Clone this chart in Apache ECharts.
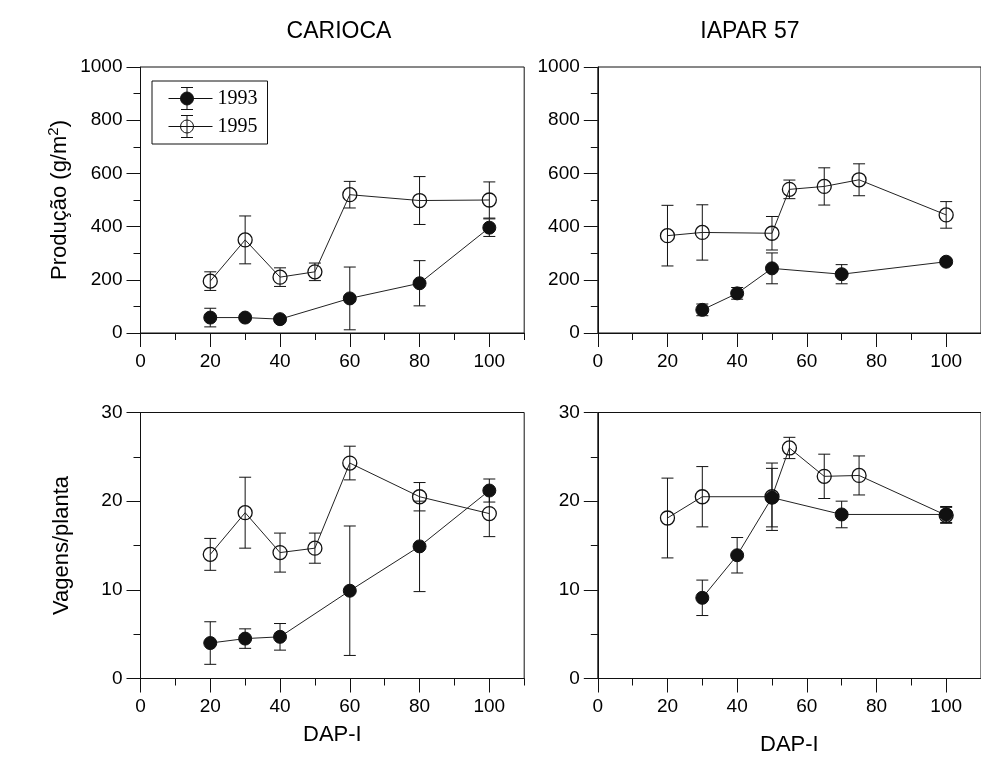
<!DOCTYPE html>
<html><head><meta charset="utf-8">
<script src="https://cdn.jsdelivr.net/npm/echarts@6/dist/echarts.min.js"></script>
<style>html,body{margin:0;padding:0;background:#fff}#c{width:981px;height:778px}</style>
</head><body><div id="c"></div>
<script>
// ---- data ----
const seriesNames = ['1993', '1995'];
const panelTitles = ['CARIOCA', 'IAPAR 57'];
const xTickLabels = [0, 20, 40, 60, 80, 100];
const xMinorTicks = [10, 30, 50, 70, 90, 110];

// CARIOCA - Produção (g/m2)
const carProdX93 = [20, 30, 40, 60, 80, 100];
const carProd93 = [58, 58, 52, 130, 187, 396];
const carProdErr93 = [35, 10, 8, 118, 85, 33];
const carProdX95 = [20, 30, 40, 50, 60, 80, 100];
const carProd95 = [195, 350, 210, 230, 520, 498, 500];
const carProdErr95 = [35, 90, 35, 33, 50, 90, 68];

// IAPAR 57 - Produção (g/m2)
const iapProdX93 = [30, 40, 50, 70, 100];
const iapProd93 = [87, 149, 243, 221, 268];
const iapProdErr93 = [22, 22, 58, 36, 10];
const iapProdX95 = [20, 30, 50, 55, 65, 75, 100];
const iapProd95 = [366, 378, 375, 540, 551, 576, 444];
const iapProdErr95 = [114, 104, 63, 35, 70, 60, 50];

// CARIOCA - Vagens/planta
const carVagX93 = [20, 30, 40, 60, 80, 100];
const carVag93 = [4.0, 4.5, 4.7, 9.9, 14.9, 21.2];
const carVagErr93 = [2.4, 1.1, 1.5, 7.3, 5.1, 1.3];
const carVagX95 = [20, 30, 40, 50, 60, 80, 100];
const carVag95 = [14.0, 18.7, 14.2, 14.7, 24.3, 20.5, 18.6];
const carVagErr95 = [1.8, 4.0, 2.2, 1.7, 1.9, 1.6, 2.6];

// IAPAR 57 - Vagens/planta
const iapVagX93 = [30, 40, 50, 70, 100];
const iapVag93 = [9.1, 13.9, 20.4, 18.5, 18.5];
const iapVagErr93 = [2.0, 2.0, 3.3, 1.5, 0.9];
const iapVagX95 = [20, 30, 50, 55, 65, 75, 100];
const iapVag95 = [18.1, 20.5, 20.5, 26.0, 22.8, 22.9, 18.4];
const iapVagErr95 = [4.5, 3.4, 3.8, 1.2, 2.5, 2.2, 0.9];

// ---- chart ----
const FONT = 'Liberation Sans, Arial, sans-serif';
const INK = '#111';

const panels = [
  {x93: carProdX93, y93: carProd93, e93: carProdErr93, x95: carProdX95, y95: carProd95, e95: carProdErr95},
  {x93: iapProdX93, y93: iapProd93, e93: iapProdErr93, x95: iapProdX95, y95: iapProd95, e95: iapProdErr95},
  {x93: carVagX93, y93: carVag93, e93: carVagErr93, x95: carVagX95, y95: carVag95, e95: carVagErr95},
  {x93: iapVagX93, y93: iapVag93, e93: iapVagErr93, x95: iapVagX95, y95: iapVag95, e95: iapVagErr95}
];

const grids = [
  {left: 140.5, top: 67, width: 383.7, height: 266},
  {left: 597.8, top: 67, width: 387.2, height: 266},
  {left: 140.5, top: 412.5, width: 383.7, height: 266},
  {left: 597.8, top: 412.5, width: 387.2, height: 266}
].map(g => Object.assign({show: true, borderColor: INK, borderWidth: 1, backgroundColor: 'transparent'}, g));

const xAxes = [];
const yAxes = [];
grids.forEach((g, i) => {
  const bottomRow = i >= 2;
  xAxes.push({
    type: 'value', gridIndex: i, position: 'bottom', min: 0, max: 110,
    axisLine: {show: true, onZero: false, lineStyle: {color: INK, width: 1}},
    axisTick: {show: true, length: 14, customValues: xTickLabels, lineStyle: {color: INK, width: 1}},
    axisLabel: {show: true, customValues: xTickLabels, margin: 19, color: '#000', fontSize: 19, fontFamily: FONT},
    splitLine: {show: false},
    name: bottomRow ? 'DAP-I' : '',
    nameLocation: 'middle',
    nameMoveOverlap: false,
    nameGap: i === 2 ? 45 : 55,
    nameTextStyle: {color: '#000', fontSize: 22, fontFamily: FONT}
  });
  xAxes.push({
    type: 'value', gridIndex: i, position: 'bottom', min: 0, max: 110,
    axisLine: {show: false},
    axisTick: {show: true, length: 7, customValues: xMinorTicks, lineStyle: {color: INK, width: 1}},
    axisLabel: {show: false},
    splitLine: {show: false}
  });
  const isProd = i < 2;
  yAxes.push({
    type: 'value', gridIndex: i, min: 0, max: isProd ? 1000 : 30, interval: isProd ? 200 : 10,
    axisLine: {show: true, onZero: false, lineStyle: {color: INK, width: 1}},
    axisTick: {show: true, length: 14, lineStyle: {color: INK, width: 1}},
    minorTick: {show: true, splitNumber: 2, length: 7, lineStyle: {color: INK, width: 1}},
    axisLabel: {margin: 18, color: '#000', fontSize: 19, fontFamily: FONT, formatter: v => String(v)},
    splitLine: {show: false},
    name: i === 0 ? 'Produção (g/m{sup|2})' : (i === 2 ? 'Vagens/planta' : ''),
    nameLocation: 'middle',
    nameRotate: 90,
    nameMoveOverlap: false,
    nameGap: 68,
    nameTextStyle: {color: '#000', fontSize: 22, fontFamily: FONT,
      rich: {sup: {fontSize: 15, fontFamily: FONT, color: '#000', padding: [0, 0, 11, 0]}}}
  });
});

function renderErr(params, api) {
  const x = api.value(0), lo = api.value(1), hi = api.value(2);
  const a = api.coord([x, hi]), b = api.coord([x, lo]);
  const w = 6;
  const st = {stroke: INK, lineWidth: 1};
  return {
    type: 'group',
    children: [
      {type: 'line', shape: {x1: a[0], y1: a[1], x2: b[0], y2: b[1]}, style: st},
      {type: 'line', shape: {x1: a[0] - w, y1: a[1], x2: a[0] + w, y2: a[1]}, style: st},
      {type: 'line', shape: {x1: b[0] - w, y1: b[1], x2: b[0] + w, y2: b[1]}, style: st}
    ]
  };
}

const series = [];
panels.forEach((p, i) => {
  [['93', seriesNames[0]], ['95', seriesNames[1]]].forEach(([k, name]) => {
    const xs = p['x' + k], ys = p['y' + k], es = p['e' + k];
    const filled = k === '93';
    series.push({
      type: 'custom', name: name, xAxisIndex: 2 * i, yAxisIndex: i,
      renderItem: renderErr, silent: true, z: 2,
      data: xs.map((x, j) => [x, ys[j] - es[j], ys[j] + es[j]])
    });
    series.push({
      type: 'line', name: name, xAxisIndex: 2 * i, yAxisIndex: i, z: 3,
      data: xs.map((x, j) => [x, ys[j]]),
      symbol: 'circle', symbolSize: filled ? 13 : 14,
      lineStyle: {color: '#222', width: 1},
      itemStyle: filled ? {color: INK, borderColor: INK, borderWidth: 1}
                        : {color: 'rgba(255,255,255,0)', borderColor: INK, borderWidth: 1.3}
    });
  });
});

const iconPath = 'path://M0,11L44,11M18.5,0L18.5,22M12.5,0L24.5,0M12.5,22L24.5,22M12,11A6.5,6.5,0,1,1,25,11A6.5,6.5,0,1,1,12,11Z';

const option = {
  animation: false,
  backgroundColor: '#fff',
  title: [
    {text: panelTitles[0], left: 334, top: 15, textAlign: 'center',
     textStyle: {fontSize: 23, fontWeight: 'normal', color: '#000', fontFamily: FONT}},
    {text: panelTitles[1], left: 745, top: 15, textAlign: 'center',
     textStyle: {fontSize: 23, fontWeight: 'normal', color: '#000', fontFamily: FONT}}
  ],
  legend: {
    left: 152, top: 81, orient: 'vertical',
    padding: [6, 10, 6, 16], itemGap: 5, itemWidth: 44, itemHeight: 22,
    borderColor: INK, borderWidth: 1, backgroundColor: '#fff',
    selectedMode: false,
    textStyle: {fontSize: 20, fontFamily: 'Liberation Serif, Times New Roman, serif', color: '#000'},
    data: [
      {name: seriesNames[0], icon: iconPath, itemStyle: {color: INK, borderColor: INK, borderWidth: 1}},
      {name: seriesNames[1], icon: iconPath, itemStyle: {color: '#fff', borderColor: INK, borderWidth: 1}}
    ]
  },
  grid: grids,
  xAxis: xAxes,
  yAxis: yAxes,
  series: series
};

const chart = echarts.init(document.getElementById('c'), null, {renderer: 'canvas'});
chart.setOption(option);
</script>
</body></html>
